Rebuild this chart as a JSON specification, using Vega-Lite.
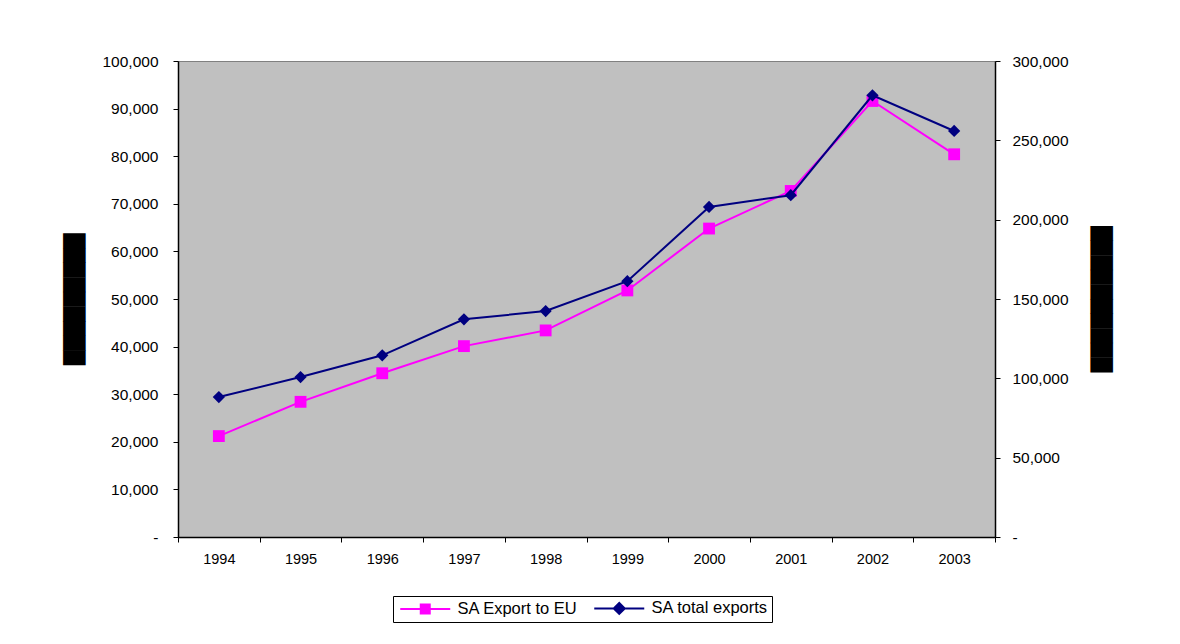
{
  "$schema": "https://vega.github.io/schema/vega-lite/v6.json",
  "width": 817,
  "height": 476,
  "autosize": "none",
  "padding": {"left": 178, "top": 61, "right": 185, "bottom": 107},
  "background": "white",
  "config": {
    "font": "Liberation Sans",
    "view": {"fill": "#C0C0C0", "stroke": "#808080", "strokeWidth": 1},
    "axis": {
      "grid": false,
      "domainColor": "black",
      "domainWidth": 1.5,
      "tickColor": "black",
      "tickWidth": 1,
      "tickSize": 5,
      "labelColor": "black",
      "labelFont": "Liberation Sans",
      "labelFontSize": 15.5,
      "titleColor": "black"
    }
  },
  "data": {
    "values": [
      {"year": "1994", "series": "SA Export to EU", "value": 21200},
      {"year": "1995", "series": "SA Export to EU", "value": 28400},
      {"year": "1996", "series": "SA Export to EU", "value": 34400},
      {"year": "1997", "series": "SA Export to EU", "value": 40100},
      {"year": "1998", "series": "SA Export to EU", "value": 43400},
      {"year": "1999", "series": "SA Export to EU", "value": 51800},
      {"year": "2000", "series": "SA Export to EU", "value": 64800},
      {"year": "2001", "series": "SA Export to EU", "value": 72700},
      {"year": "2002", "series": "SA Export to EU", "value": 91600},
      {"year": "2003", "series": "SA Export to EU", "value": 80400},
      {"year": "1994", "series": "SA total exports", "value": 88200},
      {"year": "1995", "series": "SA total exports", "value": 100800},
      {"year": "1996", "series": "SA total exports", "value": 114500},
      {"year": "1997", "series": "SA total exports", "value": 137200},
      {"year": "1998", "series": "SA total exports", "value": 142400},
      {"year": "1999", "series": "SA total exports", "value": 161200},
      {"year": "2000", "series": "SA total exports", "value": 208000},
      {"year": "2001", "series": "SA total exports", "value": 215400},
      {"year": "2002", "series": "SA total exports", "value": 278400},
      {"year": "2003", "series": "SA total exports", "value": 255900}
    ]
  },
  "encoding": {
    "x": {
      "field": "year",
      "type": "ordinal",
      "scale": {"type": "band", "paddingInner": 0, "paddingOuter": 0},
      "axis": {
        "title": null,
        "labelAngle": 0,
        "labelFontSize": 14.5,
        "tickBand": "extent",
        "labelPadding": 10
      }
    },
    "color": {
      "field": "series",
      "type": "nominal",
      "scale": {
        "domain": ["SA Export to EU", "SA total exports"],
        "range": ["#FF00FF", "#000080"]
      },
      "legend": {
        "title": null,
        "orient": "none",
        "direction": "horizontal",
        "legendX": 215,
        "legendY": 535,
        "strokeColor": "black",
        "fillColor": "white",
        "padding": 4,
        "labelFont": "Liberation Sans",
        "labelFontSize": 16.5,
        "labelColor": "black",
        "labelOffset": 24,
        "symbolOffset": 20,
        "columnPadding": 12,
        "symbolSize": 100,
        "symbolStrokeWidth": 2,
        "encode": {
          "symbols": {
            "update": {
              "shape": {"signal": "datum.value === 'SA Export to EU' ? 'M-5,0H5M-0.9,-0.9H0.9V0.9H-0.9Z' : 'M-5,0H5M0,-1.1L1.1,0L0,1.1L-1.1,0Z'"},
              "fill": {"scale": "color", "field": "value"},
              "stroke": {"scale": "color", "field": "value"},
              "opacity": {"value": 1}
            }
          }
        }
      }
    }
  },
  "layer": [
    {
      "transform": [{"filter": "datum.series === 'SA Export to EU'"}],
      "encoding": {
        "y": {
          "field": "value",
          "type": "quantitative",
          "scale": {"domain": [0, 100000], "nice": false},
          "axis": {
            "orient": "left",
            "values": [0, 10000, 20000, 30000, 40000, 50000, 60000, 70000, 80000, 90000, 100000],
            "labelExpr": "datum.value === 0 ? '-\u00a0\u00a0\u00a0' : format(datum.value, ',')",
            "labelPadding": 15,
            "title": "█████████",
            "titleFont": "DejaVu Sans",
            "titleFontSize": 19,
            "titleX": -104,
            "titleY": 238,
            "titleAlign": "center",
            "titleBaseline": "middle",
            "titleAngle": 270,
            "encode": {
              "title": {"update": {"stroke": {"value": "black"}, "strokeWidth": {"value": 1.5}}}
            }
          }
        }
      },
      "layer": [
        {"mark": {"type": "line", "strokeWidth": 2}},
        {"mark": {"type": "point", "shape": "square", "filled": true, "opacity": 1, "size": 140}}
      ]
    },
    {
      "transform": [{"filter": "datum.series === 'SA total exports'"}],
      "encoding": {
        "y": {
          "field": "value",
          "type": "quantitative",
          "scale": {"domain": [0, 300000], "nice": false},
          "axis": {
            "orient": "right",
            "values": [0, 50000, 100000, 150000, 200000, 250000, 300000],
            "labelExpr": "datum.value === 0 ? '-' : format(datum.value, ',')",
            "labelPadding": 12,
            "title": "██████████",
            "titleFont": "DejaVu Sans",
            "titleFontSize": 19,
            "titleX": 105.5,
            "titleY": 237.5,
            "titleAlign": "center",
            "titleBaseline": "middle",
            "titleAngle": 90,
            "encode": {
              "title": {"update": {"stroke": {"value": "black"}, "strokeWidth": {"value": 1.5}}}
            }
          }
        }
      },
      "layer": [
        {"mark": {"type": "line", "strokeWidth": 2}},
        {"mark": {"type": "point", "shape": "diamond", "filled": true, "opacity": 1, "size": 150}}
      ]
    }
  ],
  "resolve": {"scale": {"y": "independent"}}
}
